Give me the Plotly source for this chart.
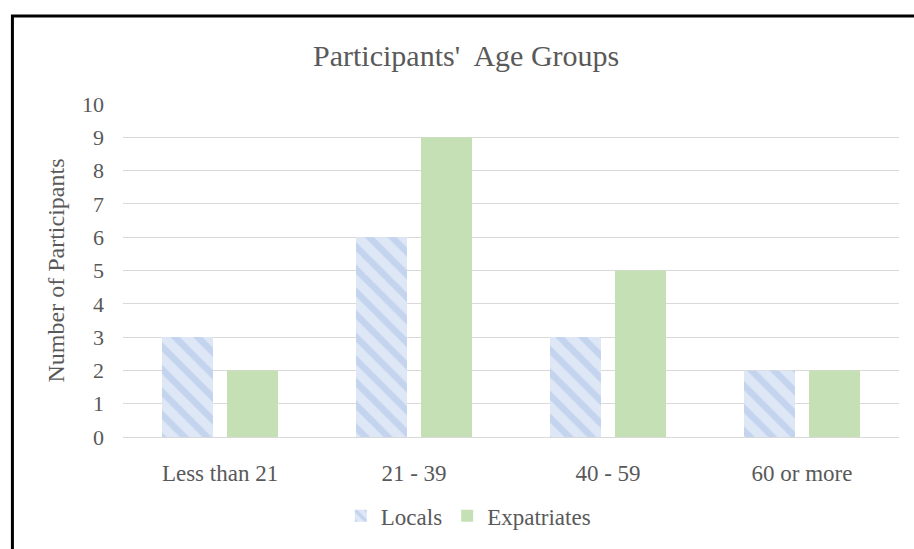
import plotly.graph_objects as go

categories = ["Less than 21", "21 - 39", "40 - 59", "60 or more"]
locals_vals = [3, 6, 3, 2]
expat_vals = [2, 9, 5, 2]
y_ticks = list(range(0, 11))

FONT = "Liberation Serif"
GREY = "#595959"

fig = go.Figure()
fig.add_trace(go.Bar(
    name="Locals", x=categories, y=locals_vals,
    marker=dict(color="#dde7f5",
                pattern=dict(shape="\\", fgcolor="#adc2e8", bgcolor="#dde7f5",
                             size=16, solidity=0.42, fillmode="overlay"),
                line=dict(width=0)),
))
fig.add_trace(go.Bar(
    name="Expatriates", x=categories, y=expat_vals,
    marker=dict(color="#c5e0b4", line=dict(width=0)),
))

fig.update_layout(
    width=914, height=549,
    margin=dict(l=123, r=15, t=104, b=108),
    paper_bgcolor="white", plot_bgcolor="white",
    font=dict(family=FONT, color=GREY, size=23),
    barmode="group", bargap=0.33, bargroupgap=0.215,
    title=dict(text="Participants'  Age Groups", x=0.51, xanchor="center",
               y=1 - 55 / 549, yanchor="middle", yref="container",
               font=dict(family=FONT, size=30, color=GREY)),
    showlegend=True,
    legend=dict(orientation="h", x=0.445, xanchor="center", y=-0.237, yanchor="middle",
                font=dict(family=FONT, size=23, color=GREY), traceorder="normal"),
    shapes=[dict(type="rect", xref="paper", yref="paper",
                 x0=-0.1425, x1=1.2, y0=-0.5, y1=1.264,
                 line=dict(color="black", width=3), fillcolor="rgba(0,0,0,0)", layer="above")],
)
fig.update_xaxes(showline=True, linecolor="#d9d9d9", linewidth=1, showgrid=False,
                 ticks="", ticklabelstandoff=15,
                 tickfont=dict(family=FONT, size=23, color=GREY))
fig.update_yaxes(range=[0, 10], tickvals=y_ticks, showgrid=True, gridcolor="#d9d9d9",
                 gridwidth=1, zeroline=False, showline=False, ticks="",
                 ticklabelstandoff=18,
                 tickfont=dict(family=FONT, size=22, color=GREY),
                 title=dict(text="Number of Participants", standoff=10,
                            font=dict(family=FONT, size=24, color=GREY)))

fig.write_html("out.html")
